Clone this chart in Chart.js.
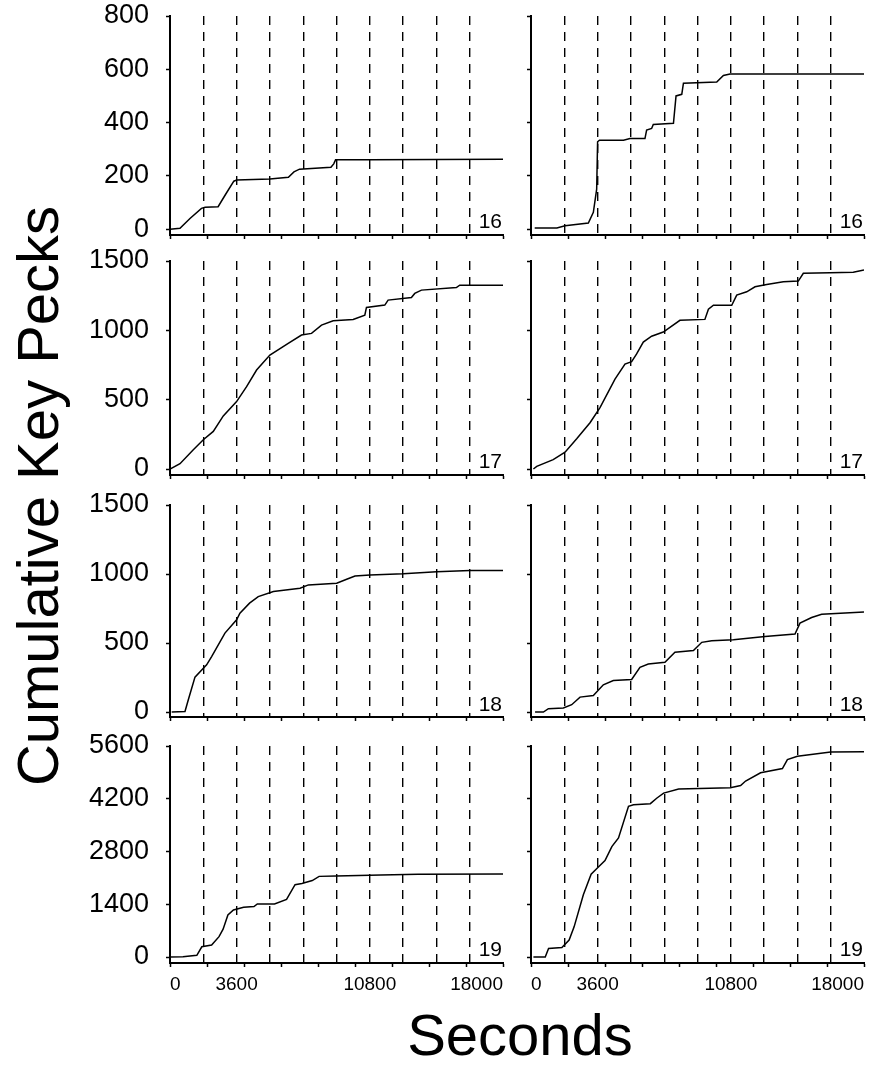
<!DOCTYPE html>
<html lang="en">
<head>
<meta charset="UTF-8">
<title>Cumulative Key Pecks</title>
<script src="https://cdn.jsdelivr.net/npm/chart.js"></script>
<style>
  * { margin: 0; padding: 0; box-sizing: border-box; }
  body { background: #fff; width: 890px; height: 1074px; overflow: hidden; font-family: 'Liberation Sans', Arial, sans-serif; color: #000; }
  #page { position: relative; width: 890px; height: 1074px; }
  .panel { position: absolute; }
  .ylabel { position: absolute; left: 38px; top: 496px; font-size: 58px; line-height: 1; white-space: nowrap; transform: translate(-50%, -50%) rotate(-90deg); }
  .xlabel { position: absolute; left: 520px; top: 1006px; font-size: 58px; line-height: 1; white-space: nowrap; transform: translateX(-50%); }
</style>
</head>
<body>
<div id="page">
  <div class="ylabel">Cumulative Key Pecks</div>
  <div class="xlabel">Seconds</div>
</div>
<script>
// session time (s) and cumulative key pecks, left (a) and right (b) panels
const s16a_t = [0, 540, 1080, 1700, 1900, 2600, 3000, 3450, 3600, 5400, 6400, 6700, 7000, 8700, 8850, 8950, 10800, 18000];
const s16a_n = [0, 3, 40, 78, 82, 84, 130, 180, 184, 188, 195, 215, 225, 232, 245, 260, 260, 262];
const s16b_t = [200, 1400, 1840, 3100, 3370, 3550, 3600, 3700, 5000, 5350, 6160, 6250, 6520, 6610, 7700, 7840, 8150, 8240, 10040, 10400, 10760, 18000];
const s16b_n = [4, 4, 13, 23, 63, 150, 328, 334, 334, 340, 340, 372, 378, 393, 397, 500, 506, 548, 552, 577, 582, 582];

const s17a_t = [0, 540, 1260, 1800, 2340, 2880, 3600, 4140, 4680, 5400, 6390, 7110, 7650, 8190, 8820, 9900, 10530, 10620, 11610, 11790, 13050, 13230, 13590, 15480, 15660, 18000];
const s17a_n = [0, 38, 139, 211, 271, 383, 486, 594, 714, 822, 906, 966, 978, 1038, 1069, 1079, 1110, 1165, 1182, 1218, 1237, 1266, 1290, 1309, 1326, 1326];
const s17b_t = [130, 310, 1200, 1840, 2470, 3190, 3730, 4540, 5080, 5440, 5710, 6070, 6520, 7150, 8050, 9400, 9590, 9860, 10850, 11120, 11660, 12110, 12740, 13640, 14450, 14720, 16160, 17420, 18000];
const s17b_n = [0, 19, 68, 121, 218, 334, 443, 648, 757, 774, 830, 915, 958, 988, 1072, 1079, 1152, 1181, 1181, 1254, 1278, 1314, 1331, 1351, 1355, 1411, 1416, 1419, 1435];

const s18a_t = [90, 810, 990, 1350, 1980, 2250, 2610, 2970, 3600, 3780, 4300, 4770, 5590, 7030, 7480, 9010, 9550, 10000, 10810, 12610, 14410, 16220, 18000];
const s18a_n = [0, 4, 89, 253, 342, 402, 487, 572, 668, 716, 789, 836, 873, 897, 921, 933, 962, 986, 993, 1001, 1017, 1025, 1025];
const s18b_t = [220, 670, 940, 1750, 2200, 2650, 3370, 3910, 4450, 5440, 5890, 6340, 7240, 7780, 8780, 9230, 9770, 10940, 12650, 14270, 14540, 15170, 15710, 18000];
const s18b_n = [0, 0, 24, 29, 53, 108, 120, 197, 228, 236, 324, 348, 360, 433, 445, 505, 517, 524, 548, 565, 644, 685, 709, 724];

const s19a_t = [0, 700, 1450, 1720, 2250, 2650, 2870, 3130, 3430, 3980, 4540, 4720, 5650, 6300, 6760, 7130, 7690, 8060, 8980, 11400, 13400, 18000];
const s19a_n = [0, 10, 45, 271, 316, 540, 740, 1115, 1250, 1320, 1340, 1410, 1410, 1530, 1920, 1950, 2030, 2140, 2150, 2175, 2195, 2200];
const s19b_t = [130, 770, 950, 1670, 2060, 2330, 2830, 3250, 3560, 4000, 4370, 4730, 5270, 5540, 6450, 6810, 7170, 7980, 10780, 11330, 11600, 12410, 13590, 13860, 14400, 16200, 18000];
const s19b_n = [0, 0, 226, 253, 452, 800, 1650, 2200, 2350, 2560, 2930, 3160, 4000, 4040, 4070, 4220, 4350, 4460, 4490, 4550, 4670, 4890, 5000, 5240, 5330, 5440, 5450];

// axis ticks
const yTicks16 = [0, 200, 400, 600, 800];
const yTicks17 = [0, 500, 1000, 1500];
const yTicks18 = [0, 500, 1000, 1500];
const yTicks19 = [0, 1400, 2800, 4200, 5600];
const xTickMarks = [0, 2000, 3600, 4000, 6000, 8000, 10000, 10800, 12000, 14000, 16000, 18000];
const xTickLabels = [0, 3600, 10800, 18000];
const xDashed = [1800, 3600, 5400, 7200, 9000, 10800, 12600, 14400, 16200];

// row layout: chart area top / bottom in page pixels, y range
const rows = [
  { id: '16', top: 16,  bottom: 235, ticks: yTicks16, min: -22,  max: 800,  a: [s16a_t, s16a_n], b: [s16b_t, s16b_n] },
  { id: '17', top: 261, bottom: 475, ticks: yTicks17, min: -43,  max: 1500, a: [s17a_t, s17a_n], b: [s17b_t, s17b_n] },
  { id: '18', top: 505, bottom: 717, ticks: yTicks18, min: -36,  max: 1500, a: [s18a_t, s18a_n], b: [s18b_t, s18b_n] },
  { id: '19', top: 746, bottom: 963, ticks: yTicks19, min: -159, max: 5600, a: [s19a_t, s19a_n], b: [s19b_t, s19b_n] }
];

Chart.defaults.font.family = "'Liberation Sans', Arial, sans-serif";
Chart.defaults.color = '#000';

const panelNo = {
  id: 'panelNo',
  afterDatasetsDraw(chart, args, opts) {
    const ctx = chart.ctx;
    const a = chart.chartArea;
    const y0 = chart.scales.y.getPixelForValue(0);
    ctx.save();
    ctx.font = "21px 'Liberation Sans', Arial, sans-serif";
    ctx.fillStyle = '#000';
    ctx.textAlign = 'right';
    ctx.textBaseline = 'alphabetic';
    ctx.fillText(opts.text, a.right - 1, y0 - 1);
    ctx.restore();
  }
};

const page = document.getElementById('page');

function makePanel(row, isLeft, isLast) {
  const xAxisH = isLast ? 40 : 8;
  const src = isLeft ? row.a : row.b;
  const div = document.createElement('div');
  div.className = 'panel';
  div.style.left = (isLeft ? 80 : 510) + 'px';
  div.style.width = (isLeft ? 430 : 360) + 'px';
  div.style.top = (row.top - 16) + 'px';
  div.style.height = (row.bottom - row.top + 16 + xAxisH) + 'px';
  const cv = document.createElement('canvas');
  div.appendChild(cv);
  page.appendChild(div);

  new Chart(cv, {
    type: 'line',
    data: {
      datasets: [{
        data: src[0].map((t, i) => ({ x: t, y: src[1][i] })),
        borderColor: '#000',
        borderWidth: 1.5,
        pointRadius: 0,
        tension: 0,
        fill: false
      }]
    },
    options: {
      animation: false,
      responsive: true,
      maintainAspectRatio: false,
      events: [],
      layout: { padding: { top: 16, right: isLeft ? 7 : 6, bottom: 0, left: 0 } },
      plugins: { legend: { display: false }, tooltip: { enabled: false }, panelNo: { text: row.id } },
      scales: {
        x: {
          type: 'linear', position: 'bottom', min: 0, max: 18000,
          afterBuildTicks: s => { s.ticks = xTickMarks.map(v => ({ value: v })); },
          afterFit: s => { s.height = xAxisH; },
          border: { display: true, color: '#000', width: 2 },
          grid: {
            drawOnChartArea: false, drawTicks: true, tickLength: 4, tickWidth: 1.5,
            tickColor: c => (c.tick && c.tick.value % 2000 === 0) ? '#000' : 'rgba(0,0,0,0)'
          },
          ticks: {
            display: isLast, autoSkip: false, maxRotation: 0, minRotation: 0, align: 'inner',
            padding: 6, color: '#000', font: { size: 19 },
            callback: v => xTickLabels.includes(v) ? String(v) : ''
          }
        },
        xg: {
          type: 'linear', position: 'top', min: 0, max: 18000,
          afterBuildTicks: s => { s.ticks = xDashed.map(v => ({ value: v })); },
          afterFit: s => { s.height = 0; },
          border: { display: false, dash: [9, 7] },
          grid: { color: '#000', lineWidth: 1.4, drawTicks: false },
          ticks: { display: false }
        },
        y: {
          type: 'linear', min: row.min, max: row.max,
          afterBuildTicks: s => { s.ticks = row.ticks.map(v => ({ value: v })); },
          afterFit: s => { s.width = isLeft ? 90 : 21; s.paddingTop = 0; s.paddingBottom = 0; },
          border: { display: true, color: '#000', width: 2 },
          grid: { drawOnChartArea: false, drawTicks: true, tickLength: 4, tickWidth: 1.5, color: '#000' },
          ticks: { display: isLeft, padding: 17, color: '#000', font: { size: 27 }, callback: v => String(v) }
        }
      }
    },
    plugins: [panelNo]
  });
}

rows.forEach((row, i) => {
  const last = i === rows.length - 1;
  makePanel(row, true, last);
  makePanel(row, false, last);
});
</script>
</body>
</html>
